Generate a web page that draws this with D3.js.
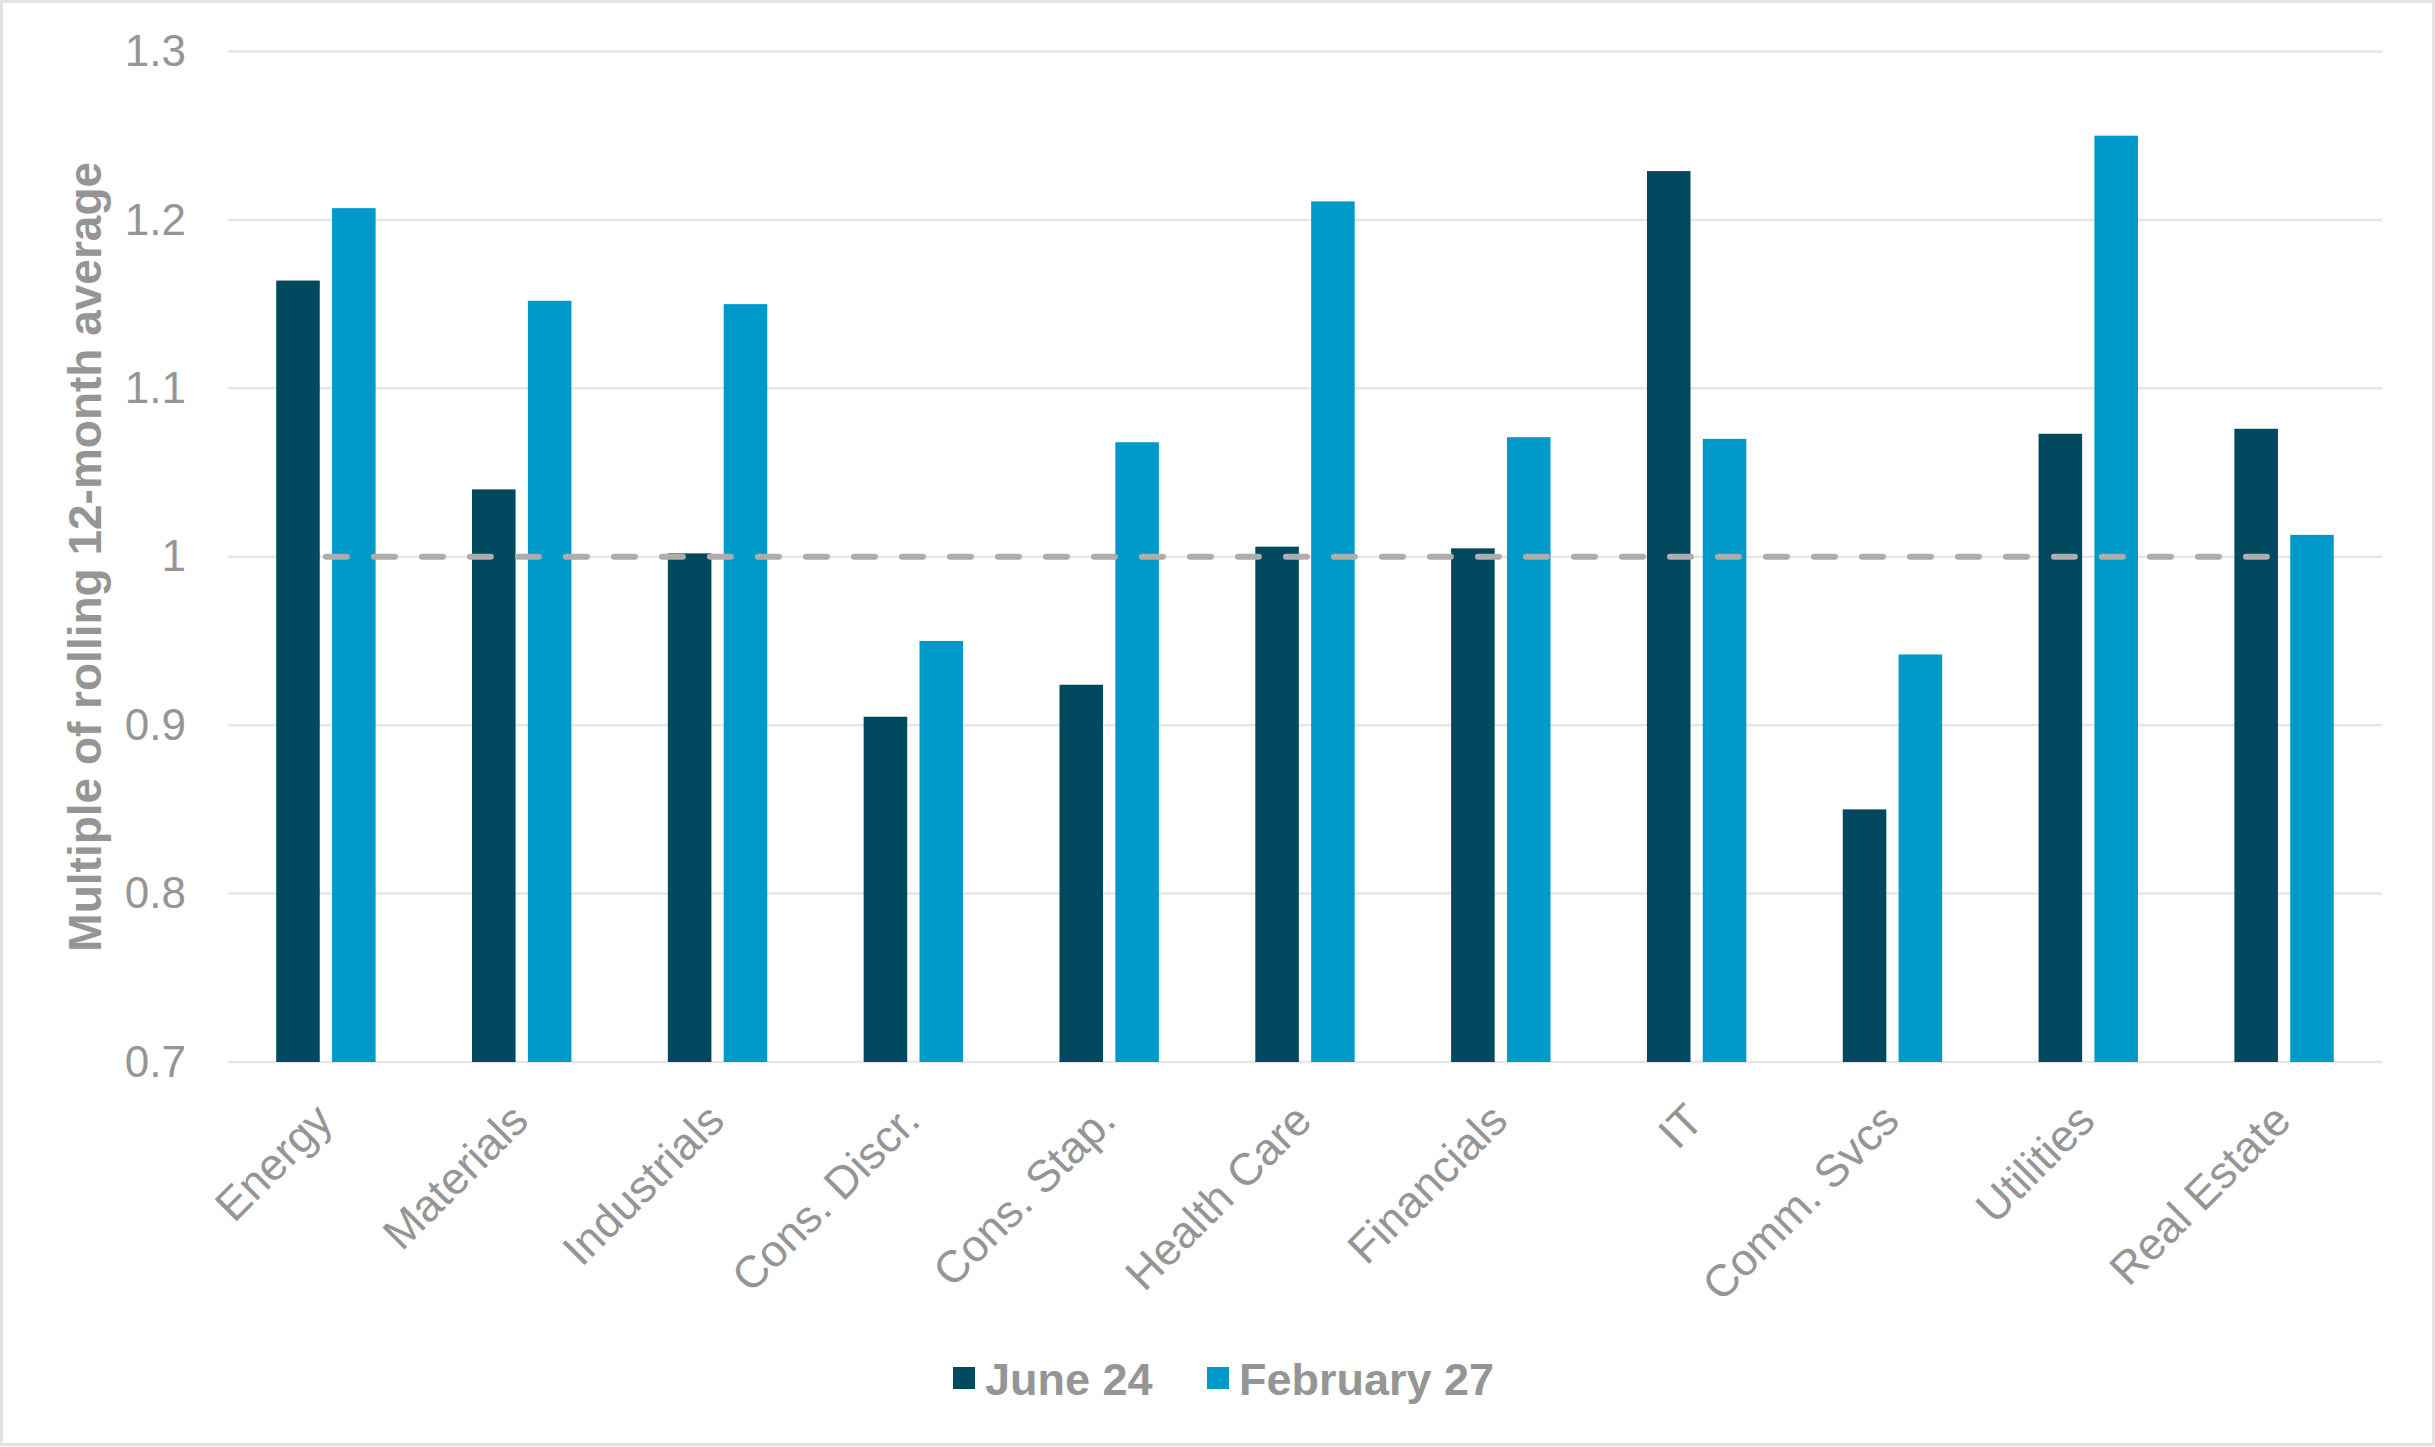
<!DOCTYPE html>
<html>
<head>
<meta charset="utf-8">
<script src="https://cdn.jsdelivr.net/npm/d3@7"></script>
<style>
  body { margin: 0; background: #fff; }
  svg { display: block; font-family: Arial, "Liberation Sans", sans-serif; }
</style>
</head>
<body>
<svg id="chart"></svg>
<script>
var sectors = ["Energy", "Materials", "Industrials", "Cons. Discr.", "Cons. Stap.", "Health Care",
  "Financials", "IT", "Comm. Svcs", "Utilities", "Real Estate"];
var seriesNames = ["June 24", "February 27"];
var june24 = [1.164, 1.040, 1.002, 0.905, 0.924, 1.006, 1.005, 1.229, 0.850, 1.073, 1.076];
var feb27 = [1.207, 1.152, 1.150, 0.950, 1.068, 1.211, 1.071, 1.070, 0.942, 1.250, 1.013];
var yTicks = [0.7, 0.8, 0.9, 1, 1.1, 1.2, 1.3];
var refLevel = 1;

var width = 2435;
var height = 1447;
var TEXT_GRAY = "#959595";
var colors = ["#00495F", "#009ACA"];

var plot = { left: 228, right: 2382, top: 51.5, bottom: 1062 };

var svg = d3.select("#chart").attr("width", width).attr("height", height);

// outer frame
svg.append("rect")
  .attr("x", 1.5).attr("y", 1.5)
  .attr("width", width - 3).attr("height", height - 4)
  .attr("fill", "#fff")
  .attr("stroke", "#E3E3E3")
  .attr("stroke-width", 3);

var x = d3.scaleBand().domain(sectors).range([plot.left, plot.right]).padding(0);
var xInner = d3.scaleBand().domain(seriesNames).range([-49.7, 49.7]).paddingInner(0.22);
var y = d3.scaleLinear().domain([0.7, 1.3]).range([plot.bottom, plot.top]);

// gridlines
svg.append("g").selectAll("line")
  .data(yTicks)
  .enter()
  .append("line")
  .attr("x1", plot.left).attr("x2", plot.right)
  .attr("y1", function(d){ return y(d); })
  .attr("y2", function(d){ return y(d); })
  .attr("stroke", "#E6E6E6")
  .attr("stroke-width", 2.5);

// y axis labels
var yAxis = svg.append("g")
  .attr("transform", "translate(" + plot.left + ",0)")
  .call(d3.axisLeft(y).tickValues(yTicks).tickSize(0).tickPadding(42)
    .tickFormat(function(d){ return String(+d.toFixed(1)); }));
yAxis.select(".domain").remove();
yAxis.selectAll("text")
  .attr("font-size", 44)
  .attr("font-family", "Arial, 'Liberation Sans', sans-serif")
  .attr("fill", TEXT_GRAY);

// y axis title
svg.append("text")
  .attr("transform", "translate(85," + ((plot.top + plot.bottom) / 2) + ") rotate(-90)")
  .attr("text-anchor", "middle")
  .attr("dy", "0.35em")
  .attr("font-size", 46)
  .attr("font-weight", "bold")
  .attr("fill", TEXT_GRAY)
  .text("Multiple of rolling 12-month average");

// bars
var rows = sectors.map(function(s, i){
  return { sector: s, values: [june24[i], feb27[i]] };
});

svg.append("g").selectAll("g")
  .data(rows)
  .enter()
  .append("g")
  .attr("transform", function(d){ return "translate(" + (x(d.sector) + x.bandwidth() / 2) + ",0)"; })
  .each(function(d){
    d3.select(this).selectAll("rect")
      .data(d.values)
      .enter()
      .append("rect")
      .attr("x", function(v, j){ return xInner(seriesNames[j]); })
      .attr("width", xInner.bandwidth())
      .attr("y", function(v){ return y(v); })
      .attr("height", function(v){ return y(0.7) - y(v); })
      .attr("fill", function(v, j){ return colors[j]; });
  });

// dashed reference line at 1, first to last category centre
var refLine = d3.line()
  .x(function(d){ return x(d) + x.bandwidth() / 2; })
  .y(function(){ return y(refLevel); });

svg.append("path")
  .datum([sectors[0], sectors[sectors.length - 1]])
  .attr("d", refLine)
  .attr("fill", "none")
  .attr("stroke", "#ADADAD")
  .attr("stroke-width", 6)
  .attr("stroke-linecap", "round")
  .attr("stroke-dasharray", "21,27");

// x axis labels
var xAxis = svg.append("g")
  .attr("transform", "translate(0," + plot.bottom + ")")
  .call(d3.axisBottom(x).tickSize(0));
xAxis.select(".domain").remove();
xAxis.selectAll("text")
  .attr("x", 0).attr("y", 0).attr("dy", 0)
  .attr("transform", "translate(9,61) rotate(-45)")
  .attr("text-anchor", "end")
  .attr("font-size", 45)
  .attr("font-family", "Arial, 'Liberation Sans', sans-serif")
  .attr("fill", TEXT_GRAY);

// legend
var legendItems = [
  { name: seriesNames[0], color: colors[0], x: 953 },
  { name: seriesNames[1], color: colors[1], x: 1207 }
];

var legend = svg.append("g").selectAll("g")
  .data(legendItems)
  .enter()
  .append("g")
  .attr("transform", function(d){ return "translate(" + d.x + ",1378)"; });

legend.append("rect")
  .attr("x", 0).attr("y", -11)
  .attr("width", 22).attr("height", 22)
  .attr("fill", function(d){ return d.color; });

legend.append("text")
  .attr("x", 32)
  .attr("y", 17)
  .attr("font-size", 45)
  .attr("font-weight", "bold")
  .attr("fill", TEXT_GRAY)
  .text(function(d){ return d.name; });
</script>
</body>
</html>
